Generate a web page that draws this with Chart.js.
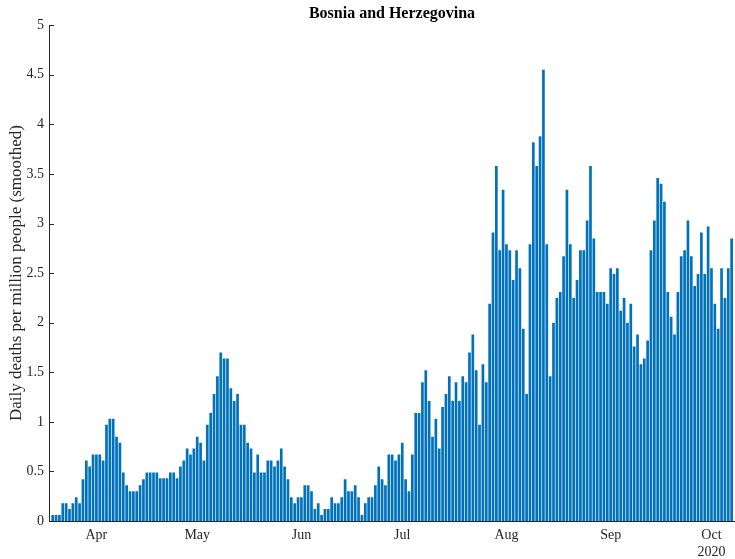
<!DOCTYPE html>
<html>
<head>
<meta charset="utf-8">
<title>Bosnia and Herzegovina</title>
<script src="https://cdn.jsdelivr.net/npm/chart.js@4/dist/chart.umd.min.js"></script>
<style>
html, body { margin: 0; padding: 0; background: #fff; }
</style>
</head>
<body>
<canvas id="grafico" width="735" height="559"></canvas>
<script>
// daily deaths per million, one bar per day from 19 Mar 2020 to 7 Oct 2020
const titolo = 'Bosnia and Herzegovina';
const etichettaY = 'Daily deaths per million people (smoothed)';
const decessi = [
    0.06, 0.06, 0.06, 0.18, 0.18, 0.12, 0.18, 0.24, 0.18, 0.42,
    0.61, 0.55, 0.67, 0.67, 0.67, 0.61, 0.97, 1.03, 1.03, 0.85,
    0.79, 0.49, 0.36, 0.30, 0.30, 0.30, 0.36, 0.42, 0.49, 0.49,
    0.49, 0.49, 0.43, 0.43, 0.43, 0.49, 0.49, 0.43, 0.55, 0.61,
    0.73, 0.67, 0.73, 0.85, 0.79, 0.61, 0.97, 1.09, 1.28, 1.46,
    1.70, 1.64, 1.64, 1.34, 1.21, 1.28, 0.97, 0.97, 0.79, 0.73,
    0.49, 0.67, 0.49, 0.49, 0.61, 0.61, 0.55, 0.61, 0.73, 0.55,
    0.42, 0.24, 0.18, 0.24, 0.24, 0.36, 0.36, 0.30, 0.12, 0.18,
    0.06, 0.12, 0.12, 0.24, 0.18, 0.18, 0.24, 0.42, 0.30, 0.30,
    0.36, 0.24, 0.06, 0.18, 0.24, 0.24, 0.36, 0.55, 0.42, 0.36,
    0.67, 0.67, 0.61, 0.67, 0.79, 0.42, 0.30, 0.67, 1.09, 1.09,
    1.40, 1.52, 1.21, 0.85, 1.03, 0.73, 1.15, 1.28, 1.46, 1.21,
    1.40, 1.21, 1.46, 1.40, 1.70, 1.88, 1.52, 0.97, 1.58, 1.40,
    2.19, 2.91, 3.58, 2.73, 3.34, 2.79, 2.73, 2.43, 2.73, 2.55,
    1.94, 1.28, 2.79, 3.82, 3.58, 3.88, 4.55, 2.79, 1.46, 2.00,
    2.25, 2.31, 2.67, 3.34, 2.79, 2.25, 2.43, 2.73, 2.73, 3.03,
    3.58, 2.85, 2.31, 2.31, 2.31, 2.19, 2.55, 2.49, 2.55, 2.12,
    2.25, 2.00, 2.19, 1.76, 1.88, 1.58, 1.64, 1.82, 2.73, 3.03,
    3.46, 3.40, 3.22, 2.31, 2.06, 1.88, 2.31, 2.67, 2.73, 3.03,
    2.67, 2.37, 2.49, 2.91, 2.49, 2.97, 2.55, 2.19, 1.94, 2.55,
    2.25, 2.55, 2.85
];
// day index (0 = 19 Mar) of the first of each month, and its label
const giorniMese = [13, 43, 74, 104, 135, 166, 196];
const nomiMese = ['Apr', 'May', 'Jun', 'Jul', 'Aug', 'Sep', ['Oct', '2020']];
const tickY = [0, 0.5, 1, 1.5, 2, 2.5, 3, 3.5, 4, 4.5, 5];

const colore = '#0072BD';
const grigio = '#262626';
const serif = 'Liberation Serif';

// matlab style ticks, pointing inside the axes
const tacche = {
    id: 'tacche',
    afterDatasetsDraw(chart) {
        const c = chart.ctx;
        const area = chart.chartArea;
        const y = chart.scales.y;
        c.save();
        c.strokeStyle = grigio;
        c.lineWidth = 1;
        y.ticks.forEach(t => {
            const py = Math.round(y.getPixelForValue(t.value)) + 0.5;
            c.beginPath();
            c.moveTo(area.left, py);
            c.lineTo(area.left + 5, py);
            c.stroke();
        });
        c.restore();
    }
};

const punti = decessi.map((v, i) => ({ x: i, y: v }));

new Chart(document.getElementById('grafico'), {
    type: 'bar',
    data: {
        datasets: [{
            data: punti,
            backgroundColor: colore,
            borderWidth: 0,
            barPercentage: 0.8,
            categoryPercentage: 1
        }]
    },
    options: {
        responsive: false,
        animation: false,
        devicePixelRatio: 1,
        layout: { padding: 0 },
        plugins: {
            legend: { display: false },
            tooltip: { enabled: false },
            title: {
                display: true,
                fullSize: false,
                text: titolo,
                color: '#000',
                font: { family: serif, size: 16, weight: 'bold' },
                padding: { top: 4, bottom: 2 }
            }
        },
        scales: {
            x: {
                type: 'linear',
                min: -1.1,
                max: 203,
                offset: false,
                z: 1,
                grid: { display: false, drawTicks: false },
                border: { display: true, color: grigio, width: 1 },
                afterBuildTicks: s => { s.ticks = giorniMese.map(v => ({ value: v })); },
                ticks: {
                    autoSkip: false,
                    maxRotation: 0,
                    padding: 6,
                    color: grigio,
                    font: { family: serif, size: 14 },
                    callback: (v, i) => nomiMese[i]
                },
                afterFit: s => { s.height = 38; }
            },
            y: {
                min: 0,
                max: 5,
                z: 1,
                grid: { display: false, drawTicks: false },
                border: { display: true, color: grigio, width: 1 },
                afterBuildTicks: s => { s.ticks = tickY.map(v => ({ value: v })); },
                ticks: {
                    padding: 5,
                    color: grigio,
                    font: { family: serif, size: 14 },
                    callback: v => String(v)
                },
                title: {
                    display: true,
                    text: etichettaY,
                    color: grigio,
                    font: { family: serif, size: 17 },
                    padding: { top: 6, bottom: 0 }
                },
                afterFit: s => { s.width = 49; }
            }
        }
    },
    plugins: [tacche]
});
</script>
</body>
</html>
